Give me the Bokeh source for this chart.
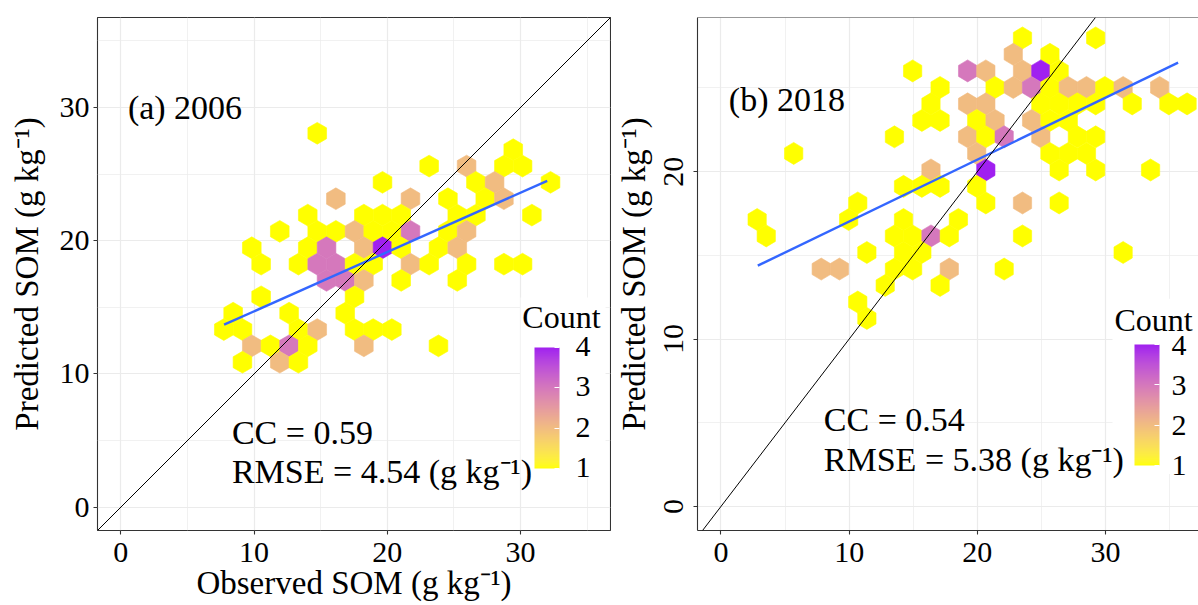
from bokeh.plotting import figure
from bokeh.layouts import row
from bokeh.models import (Range1d, FixedTicker, ColorBar, LinearColorMapper, Label,
                          Slope, BoxAnnotation, Span, ColumnDataSource)
from bokeh.embed import file_html
from bokeh.resources import INLINE

# ---------------- data ----------------
# (a) 2006 : hexbin centres (observed, predicted) and counts
a_obs = [14.74,
         29.45,
         23.14, 25.95, 28.75, 30.15,
         19.64, 26.65, 28.05, 32.25,
         16.14, 21.74, 24.55, 27.35, 28.75,
         14.03, 18.24, 19.64, 21.04, 25.25, 26.65, 30.85,
         11.93, 14.74, 16.14, 17.54, 18.94, 20.34, 21.74, 24.55, 25.95,
         9.83, 14.03, 15.44, 18.24, 19.64, 21.04, 23.84, 25.25,
         10.53, 13.33, 14.74, 16.14, 17.54, 18.94, 21.74, 23.14, 25.95, 28.75, 30.15,
         15.44, 16.84, 18.24, 21.04, 25.25,
         10.53, 17.54,
         8.43, 12.63, 16.84,
         7.73, 9.13, 13.33, 14.74, 17.54, 18.94, 20.34,
         9.83, 11.23, 12.63, 14.03, 18.24, 23.84,
         9.13, 11.93, 13.33]
a_pred = [28.06,
          26.83,
          25.60, 25.60, 25.60, 25.60,
          24.38, 24.38, 24.38, 24.38,
          23.15, 23.15, 23.15, 23.15, 23.15,
          21.92, 21.92, 21.92, 21.92, 21.92, 21.92, 21.92,
          20.70, 20.70, 20.70, 20.70, 20.70, 20.70, 20.70, 20.70, 20.70,
          19.47, 19.47, 19.47, 19.47, 19.47, 19.47, 19.47, 19.47,
          18.24, 18.24, 18.24, 18.24, 18.24, 18.24, 18.24, 18.24, 18.24, 18.24, 18.24,
          17.02, 17.02, 17.02, 17.02, 17.02,
          15.79, 15.79,
          14.56, 14.56, 14.56,
          13.33, 13.33, 13.33, 13.33, 13.33, 13.33, 13.33,
          12.11, 12.11, 12.11, 12.11, 12.11, 12.11,
          10.88, 10.88, 10.88]
a_count = [1,
           1,
           1, 2, 1, 1,
           1, 1, 2, 1,
           2, 2, 1, 1, 2,
           1, 1, 1, 1, 1, 1, 1,
           1, 1, 1, 2, 1, 1, 3, 1, 2,
           1, 1, 3, 2, 4, 1, 1, 2,
           1, 1, 3, 3, 1, 1, 2, 1, 1, 1, 1,
           3, 3, 2, 1, 1,
           1, 1,
           1, 1, 1,
           1, 1, 1, 2, 1, 1, 1,
           2, 1, 3, 1, 2, 1,
           1, 2, 1]

# (b) 2018
b_obs = [23.52, 29.23,
         22.80, 25.66,
         14.95, 19.24, 20.66, 23.52, 24.95, 26.38,
         17.09, 21.38, 22.80, 24.23, 25.66, 27.09, 28.51, 29.94, 31.37, 34.22,
         16.38, 19.24, 20.66, 24.95, 26.38, 27.80, 29.23, 32.08, 34.94, 36.36,
         15.67, 17.09, 19.95, 21.38, 24.23, 25.66, 27.09,
         13.53, 19.24, 20.66, 22.09, 24.95, 27.80, 29.23,
         5.67, 19.95, 25.66, 27.09, 28.51,
         16.38, 20.66, 26.38, 29.23, 33.51,
         14.24, 15.67, 17.09, 19.95,
         10.67, 20.66, 23.52, 26.38,
         2.82, 9.96, 14.24, 18.52,
         3.53, 13.53, 14.95, 16.38, 17.81, 23.52,
         11.38, 14.24, 15.67, 31.37,
         7.82, 9.24, 13.53, 14.95, 17.81, 22.09,
         12.81, 17.09,
         10.67,
         11.38]
b_pred = [27.99, 27.99,
          27.01, 27.01,
          26.02, 26.02, 26.02, 26.02, 26.02, 26.02,
          25.03, 25.03, 25.03, 25.03, 25.03, 25.03, 25.03, 25.03, 25.03, 25.03,
          24.05, 24.05, 24.05, 24.05, 24.05, 24.05, 24.05, 24.05, 24.05, 24.05,
          23.06, 23.06, 23.06, 23.06, 23.06, 23.06, 23.06,
          22.08, 22.08, 22.08, 22.08, 22.08, 22.08, 22.08,
          21.09, 21.09, 21.09, 21.09, 21.09,
          20.10, 20.10, 20.10, 20.10, 20.10,
          19.12, 19.12, 19.12, 19.12,
          18.13, 18.13, 18.13, 18.13,
          17.14, 17.14, 17.14, 17.14,
          16.16, 16.16, 16.16, 16.16, 16.16, 16.16,
          15.17, 15.17, 15.17, 15.17,
          14.18, 14.18, 14.18, 14.18, 14.18, 14.18,
          13.20, 13.20,
          12.21,
          11.23]
b_count = [1, 1,
           2, 1,
           1, 3, 2, 2, 4, 1,
           1, 1, 2, 3, 1, 2, 2, 1, 2, 2,
           1, 2, 2, 1, 1, 1, 1, 1, 1, 1,
           1, 1, 1, 2, 2, 1, 1,
           1, 2, 1, 3, 2, 1, 1,
           1, 2, 1, 1, 1,
           2, 4, 1, 1, 1,
           1, 1, 1, 1,
           1, 1, 2, 1,
           1, 1, 1, 1,
           1, 1, 1, 3, 1, 1,
           1, 1, 1, 1,
           2, 2, 1, 1, 2, 1,
           1, 1,
           1,
           1]

# linear fits (intercept, slope, x extent)
fit_a = [10.25, 0.445, 7.75, 32.0]
fit_b = [13.32, 0.370, 2.87, 35.66]

panel_titles = ["(a) 2006", "(b) 2018"]
cc_values = [0.59, 0.54]
rmse_values = [4.54, 5.38]
count_ticks = [1, 2, 3, 4]
major_ticks = [0, 10, 20, 30]
minor_ticks = [-5, 5, 15, 25, 35]
b_y_major = [0, 10, 20]
b_y_minor = [-5, 5, 15, 25]

# ---------------- styling ----------------
FONT = "Liberation Serif"
UNIT = "(g kg\u207b\u00b9)"
LOW, HIGH = (255, 255, 0), (160, 32, 240)   # yellow -> purple
BAR_W, BAR_H = 25, 121


def _lin(c):
    c = c / 255.0
    return c / 12.92 if c <= 0.04045 else ((c + 0.055) / 1.055) ** 2.4


def rgb2lab(rgb):
    r, g, b = (_lin(v) for v in rgb)
    X = (0.4124564 * r + 0.3575761 * g + 0.1804375 * b) / 0.95047
    Y = (0.2126729 * r + 0.7151522 * g + 0.0721750 * b)
    Z = (0.0193339 * r + 0.1191920 * g + 0.9503041 * b) / 1.08883
    f = lambda t: t ** (1 / 3) if t > 0.008856 else 7.787 * t + 16 / 116
    fx, fy, fz = f(X), f(Y), f(Z)
    return 116 * fy - 16, 500 * (fx - fy), 200 * (fy - fz)


def lab2hex(L, a, b):
    fy = (L + 16) / 116
    fx = fy + a / 500
    fz = fy - b / 200
    finv = lambda t: t ** 3 if t ** 3 > 0.008856 else (t - 16 / 116) / 7.787
    X, Y, Z = 0.95047 * finv(fx), finv(fy), 1.08883 * finv(fz)
    R = 3.2404542 * X - 1.5371385 * Y - 0.4985314 * Z
    G = -0.9692660 * X + 1.8760108 * Y + 0.0415560 * Z
    B = 0.0556434 * X - 0.2040259 * Y + 1.0572252 * Z
    gam = lambda c: 12.92 * c if c <= 0.0031308 else 1.055 * c ** (1 / 2.4) - 0.055
    out = []
    for c in (R, G, B):
        v = min(1.0, max(0.0, gam(c)))
        out.append(int(round(v * 255)))
    return "#%02x%02x%02x" % tuple(out)


LAB_LO, LAB_HI = rgb2lab(LOW), rgb2lab(HIGH)


def ramp(t):
    return lab2hex(*[lo + (hi - lo) * t for lo, hi in zip(LAB_LO, LAB_HI)])


PALETTE = [ramp(i / 255) for i in range(256)]
CMIN, CMAX = min(count_ticks), max(count_ticks)


def hex_source(xc, yc, counts, half_w, radius):
    ox = [0, 1, 1, 0, -1, -1]
    oy = [1, 0.5, -0.5, -1, -0.5, 0.5]
    xs = [[x + half_w * o for o in ox] for x in xc]
    ys = [[y + radius * o for o in oy] for y in yc]
    cols = [ramp((n - CMIN) / (CMAX - CMIN)) for n in counts]
    return ColumnDataSource(dict(xs=xs, ys=ys, fill=cols))


def style_axes(p, xmaj, xmin, ymaj, ymin, xlabel, ylab_vertical, ylab_standoff,
               ytitle_standoff, xtitle_standoff):
    for ax in (p.xaxis[0], p.yaxis[0]):
        ax.major_label_text_font = FONT
        ax.major_label_text_font_size = "30px"
        ax.major_label_text_color = "black"
        ax.axis_label_text_font = FONT
        ax.axis_label_text_font_size = "33px"
        ax.axis_label_text_font_style = "normal"
        ax.axis_label_text_color = "black"
        ax.major_tick_line_color = "#333333"
        ax.major_tick_line_width = 1.1
        ax.major_tick_out = 4
        ax.major_tick_in = 0
        ax.minor_tick_line_color = None
    p.xaxis[0].ticker = FixedTicker(ticks=xmaj, minor_ticks=xmin)
    p.yaxis[0].ticker = FixedTicker(ticks=ymaj, minor_ticks=ymin)
    p.xaxis[0].major_label_standoff = 8
    p.yaxis[0].major_label_standoff = ylab_standoff
    if ylab_vertical:
        p.yaxis[0].major_label_orientation = "vertical"
    p.xaxis[0].axis_label = xlabel
    p.xaxis[0].axis_label_standoff = xtitle_standoff
    p.yaxis[0].axis_label = "Predicted SOM " + UNIT
    p.yaxis[0].axis_label_standoff = ytitle_standoff
    for g in (p.xgrid[0], p.ygrid[0]):
        g.grid_line_color = "#ebebeb"
        g.grid_line_width = 1.2
        g.minor_grid_line_color = "#ebebeb"
        g.minor_grid_line_width = 0.7


def text_label(x, y, txt, size):
    return Label(x=x, y=y, text=txt, text_font=FONT, text_font_size=size,
                 text_color="black", text_baseline="alphabetic")


def build(xr, yr, w, h, borders, frame, obs, pred, counts, half_w, radius, fit,
          title, title_xy, cc, rmse, text_xy, box, count_xy, cb_loc, cb_gap,
          ymaj, ymin, xlabel, full_outline, ylab_vertical, ylab_standoff,
          ytitle_standoff, xtitle_standoff):
    left, right, top, bottom = borders
    p = figure(width=w, height=h, x_range=Range1d(*xr), y_range=Range1d(*yr),
               output_backend="svg", toolbar_location=None,
               min_border_left=left, min_border_right=right,
               min_border_top=top, min_border_bottom=bottom,
               background_fill_color="white", border_fill_color="white")
    style_axes(p, major_ticks, minor_ticks, ymaj, ymin, xlabel, ylab_vertical,
               ylab_standoff, ytitle_standoff, xtitle_standoff)
    if full_outline:
        p.outline_line_color = "#333333"
        p.outline_line_width = 1.1
        p.xaxis[0].axis_line_color = None
        p.yaxis[0].axis_line_color = None
    else:
        p.outline_line_color = None
        p.xaxis[0].axis_line_color = "#333333"
        p.yaxis[0].axis_line_color = "#333333"
        p.xaxis[0].axis_line_width = 1.1
        p.yaxis[0].axis_line_width = 1.1
        p.add_layout(Span(location=yr[1], dimension="width",
                          line_color="#333333", line_width=1.1))

    src = hex_source(obs, pred, counts, half_w, radius)
    p.patches("xs", "ys", source=src, fill_color="fill", line_color="fill",
              line_width=0.6)

    # regression line
    a0, b0, x0, x1 = fit
    p.line([x0, x1], [a0 + b0 * x0, a0 + b0 * x1], line_color="#3366ff",
           line_width=2.4)
    # 1:1 line
    p.add_layout(Slope(gradient=1, y_intercept=0, line_color="black",
                       line_width=1))

    # legend background
    p.add_layout(BoxAnnotation(left=box[0], right=box[1], bottom=box[2], top=box[3],
                               fill_color="white", fill_alpha=1.0, line_color=None))

    # annotations
    p.add_layout(text_label(title_xy[0], title_xy[1], title, "34px"))
    p.add_layout(text_label(text_xy[0], text_xy[1], "CC = %.2f" % cc, "34px"))
    p.add_layout(text_label(text_xy[0], text_xy[2],
                            "RMSE = %.2f %s" % (rmse, UNIT), "34px"))
    p.add_layout(text_label(count_xy[0], count_xy[1], "Count", "32px"))

    mapper = LinearColorMapper(palette=PALETTE, low=CMIN, high=CMAX)
    cb = ColorBar(color_mapper=mapper, ticker=FixedTicker(ticks=count_ticks),
                  width=BAR_W, height=BAR_H, location=cb_loc, padding=0, margin=0,
                  background_fill_alpha=0, border_line_color=None, bar_line_color=None,
                  major_label_text_alpha=0, label_standoff=cb_gap,
                  major_tick_line_color="white", major_tick_in=5, major_tick_out=0,
                  minor_tick_line_color=None)
    p.add_layout(cb, "center")

    # colour-bar tick labels (serif), placed next to the bar's ticks
    fw, fh = frame
    ppx = fw / (xr[1] - xr[0])
    ppy = fh / (yr[1] - yr[0])
    lx = xr[0] + (cb_loc[0] + BAR_W + cb_gap) / ppx
    for k in count_ticks:
        off = cb_loc[1] + (k - CMIN) / (CMAX - CMIN) * BAR_H + 1
        p.add_layout(text_label(lx, yr[0] + off / ppy, str(k), "30px"))
    return p


pa = build(xr=(-1.75, 36.75), yr=(-1.75, 36.75), w=611, h=605,
           borders=(97, 1, 17, 75), frame=(513, 513),
           obs=a_obs, pred=a_pred, counts=a_count, half_w=0.7007, radius=0.818,
           fit=fit_a, title=panel_titles[0], title_xy=(0.53, 30.0),
           cc=cc_values[0], rmse=rmse_values[0], text_xy=(8.34, 5.61, 2.69),
           box=(30.0, 36.38, 2.23, 15.73), count_xy=(30.13, 14.27),
           cb_loc=(437, 62), cb_gap=16, ymaj=major_ticks, ymin=minor_ticks,
           xlabel="Observed SOM " + UNIT, full_outline=True,
           ylab_vertical=False, ylab_standoff=4, ytitle_standoff=12,
           xtitle_standoff=0)

pb = build(xr=(-1.833, 37.25), yr=(-1.44, 29.21), w=587, h=605,
           borders=(86, 0, 16, 71), frame=(501, 518),
           obs=b_obs, pred=b_pred, counts=b_count, half_w=0.7137, radius=0.658,
           fit=fit_b, title=panel_titles[1], title_xy=(0.61, 24.3),
           cc=cc_values[1], rmse=rmse_values[1], text_xy=(8.02, 5.21, 2.80),
           box=(30.54, 37.5, 1.93, 12.41), count_xy=(30.69, 11.15),
           cb_loc=(437, 65), cb_gap=12, ymaj=b_y_major, ymin=b_y_minor,
           xlabel=None, full_outline=False,
           ylab_vertical=True, ylab_standoff=10, ytitle_standoff=10,
           xtitle_standoff=0)

layout = row(pa, pb, spacing=0)
open("out.html", "w").write(file_html(layout, INLINE))
